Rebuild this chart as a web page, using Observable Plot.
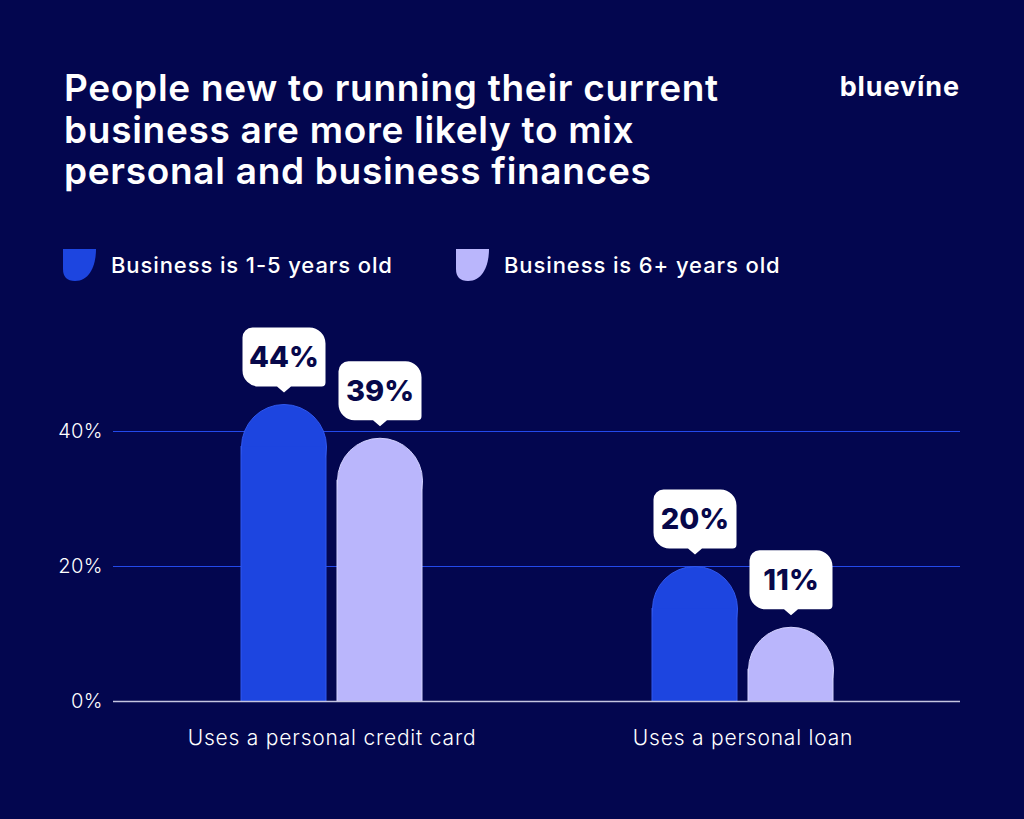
<!DOCTYPE html>
<html>
<head>
<meta charset="utf-8">
<script src="https://cdn.jsdelivr.net/npm/d3@7"></script>
<script src="https://cdn.jsdelivr.net/npm/@observablehq/plot@0.6"></script>
<style>
  html, body { margin: 0; padding: 0; background: #03064f; }
  #wrap { position: relative; width: 1024px; height: 819px; background: #03064f; overflow: hidden; font-family: Inter, "Noto Sans", sans-serif; color: #fff; }
  #title { position: absolute; left: 64px; top: 67px; margin: 0; font-size: 37px; line-height: 41.5px; font-weight: 600; letter-spacing: 0.7px; }
  #logo { position: absolute; right: 64px; top: 70px; font-size: 27px; font-weight: 700; letter-spacing: 0.9px; }
  .leg { position: absolute; top: 249px; display: flex; align-items: center; font-size: 22px; font-weight: 500; letter-spacing: 0.9px; }
  .leg svg { margin-right: 15px; }
  #chart { position: absolute; left: 0; top: 300px; }
  #chart g[aria-label="x-axis tick label"] text { letter-spacing: 0.8px; }
</style>
</head>
<body>
<div id="wrap">
  <h1 id="title">People new to running their current<br>business are more likely to mix<br>personal and business finances</h1>
  <div id="logo">bluevíne</div>
  <div id="legend"></div>
  <div id="chart"></div>
</div>
<script>
const categories = ["Uses a personal credit card", "Uses a personal loan"];
const series = ["Business is 1-5 years old", "Business is 6+ years old"];
const young = [44, 20];
const old = [39, 11];
const yTicks = [0, 20, 40];
const colors = ["#1d45e0", "#bab6fc"];
const strokes = ["#3058ee", "#d4d2ff"];

const data = [];
categories.forEach((c, i) => {
  data.push({category: c, series: series[0], value: young[i]});
  data.push({category: c, series: series[1], value: old[i]});
});

// legend
const legend = document.getElementById("legend");
const legLeft = [63, 456];
series.forEach((s, i) => {
  const d = document.createElement("div");
  d.className = "leg";
  d.style.left = legLeft[i] + "px";
  d.innerHTML = `<svg width="33" height="32" viewBox="0 0 33 32"><path d="M0,0 H33 C33,16 27,32 12,32 Q0,32 0,20 Z" fill="${colors[i]}"/></svg><span>${s}</span>`;
  legend.appendChild(d);
});

const bubble = {
  draw(ctx) {
    const L = -41.5, R = 41.5, T = -65, B = -6;
    ctx.moveTo(L + 10, T);
    ctx.arcTo(R, T, R, B, 16);
    ctx.arcTo(R, B, L, B, 4);
    ctx.lineTo(7, B);
    ctx.lineTo(0, 0);
    ctx.lineTo(-7, B);
    ctx.arcTo(L, B, L, T, 16);
    ctx.arcTo(L, T, R, T, 10);
    ctx.closePath();
  }
};

const barW = 85, bw = 181, off = 48, R = 42.5;
const marks = [
  Plot.ruleY([20, 40], {stroke: "#2349ea", strokeWidth: 1.2})
];
series.forEach((s, i) => {
  const sub = data.filter(d => d.series === s);
  const dx = i === 0 ? -off : off;
  marks.push(
    Plot.barY(sub, {x: "category", y1: 0, y2: "value", fill: colors[i], stroke: strokes[i], strokeWidth: 1,
      insetTop: R, insetLeft: i === 0 ? 0 : bw - barW, insetRight: i === 0 ? bw - barW : 0}),
    Plot.dot(sub, {x: "category", y: "value", dx, dy: R, r: R, fill: colors[i], stroke: strokes[i], strokeWidth: 1, clip: true}),
    Plot.barY(sub, {x: "category", y1: 0, y2: "value", fill: colors[i],
      insetTop: R, insetLeft: (i === 0 ? 0 : bw - barW) + 1, insetRight: (i === 0 ? bw - barW : 0) + 1, insetBottom: 0})
  );
});
marks.push(Plot.ruleY([0], {stroke: "#c4c4e0", strokeWidth: 1.5}));
series.forEach((s, i) => {
  const sub = data.filter(d => d.series === s);
  const dx = i === 0 ? -off : off;
  marks.push(
    Plot.dot(sub, {x: "category", y: "value", dx, dy: -12, symbol: bubble, fill: "#ffffff", stroke: "none"}),
    Plot.text(sub, {x: "category", y: "value", dx, dy: -47, text: d => d.value + "%", fill: "#07084a",
      fontSize: 29, fontWeight: 800, fontFamily: "Inter, sans-serif", textAnchor: "middle", lineAnchor: "middle"})
  );
});
marks.push(
  Plot.axisY({ticks: yTicks, tickFormat: d => d + "%", tickSize: 0, tickPadding: 11, fontSize: 20, fontWeight: 300, fill: "#ffffff", label: null}),
  Plot.axisX({tickSize: 0, tickPadding: 29, fontSize: 21, fontWeight: 300, fill: "#ffffff", label: null})
);

const chart = Plot.plot({
  width: 1024,
  height: 480,
  marginLeft: 113,
  marginRight: 64,
  marginTop: 63.5,
  marginBottom: 79,
  style: {background: "transparent", fontFamily: "Inter, sans-serif", color: "#ffffff", overflow: "visible"},
  x: {type: "band", domain: categories, paddingInner: 0.56, paddingOuter: 0.309, align: 0.5, label: null},
  y: {domain: [0, 50], label: null},
  marks
});
document.getElementById("chart").appendChild(chart);
</script>
</body>
</html>
